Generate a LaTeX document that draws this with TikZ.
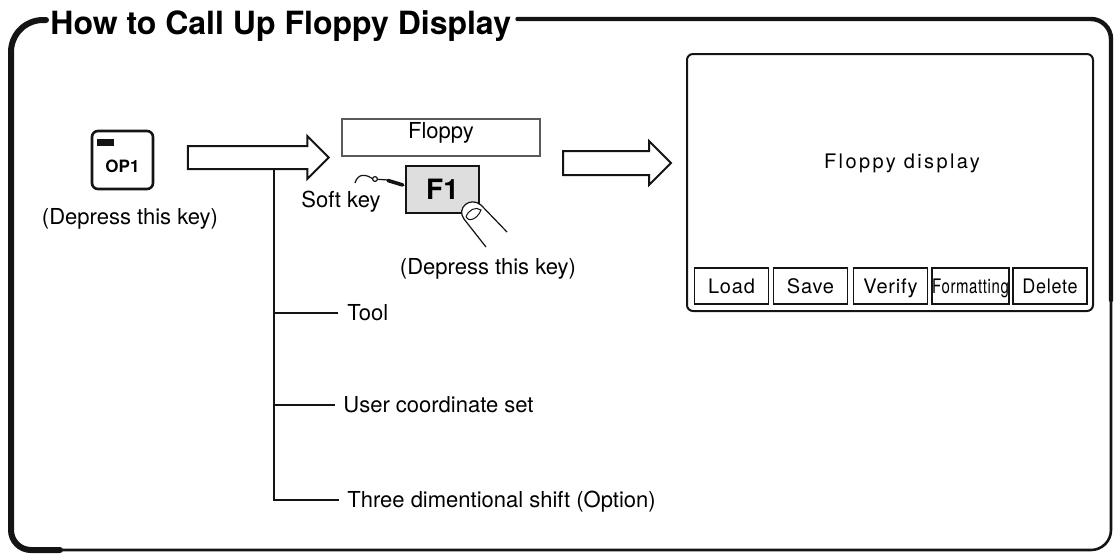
\documentclass[tikz,border=0pt]{standalone}
\usepackage{fontspec}
\setmainfont{TeX Gyre Heros}
\usetikzlibrary{positioning,shapes.arrows,calc}
\definecolor{ink}{RGB}{20,20,20}
\definecolor{keyface}{RGB}{222,222,222}
\tikzset{
  frame/.style={draw=ink,line width=3pt,line cap=round},
  thin/.style={draw=ink,line width=0.75pt},
  title/.style={font=\fontsize{16}{18}\selectfont\bfseries,inner sep=0pt},
  lbl/.style={font=\fontsize{11}{13}\selectfont,inner sep=0pt,
    text height=7.9pt,text depth=0pt},
  opkey/.style={draw=ink,line width=1.3pt,rounded corners=3pt,fill=white,
    minimum width=30.5pt,minimum height=29pt,inner sep=0pt},
  softbox/.style={draw=ink!70,line width=0.6pt,minimum width=99pt,
    minimum height=18.5pt,inner sep=0pt,font=\fontsize{11}{13}\selectfont,
    text height=7.9pt,text depth=6.5pt},
  softkey/.style={draw=ink,line width=1.2pt,fill=keyface,minimum width=36.5pt,
    minimum height=23.5pt,inner sep=0pt,font=\fontsize{14}{16}\selectfont\bfseries},
  fatarrow/.style={single arrow,draw=ink,line width=1pt,fill=white,
    inner xsep=0pt,inner ysep=5.25pt,
    single arrow head extend=5pt,single arrow tip angle=90,
    single arrow head indent=0pt},
  screen/.style={draw=ink,line width=1pt,rounded corners=3pt,
    minimum width=203pt,minimum height=128.5pt,inner sep=0pt},
  fbtn/.style={draw=ink,line width=0.7pt,minimum width=37pt,minimum height=18pt,
    inner sep=0pt,font=\fontsize{10}{12}\selectfont\addfontfeatures{LetterSpace=4},
    text height=7.2pt,text depth=0pt},
}

\begin{document}
\begin{tikzpicture}[x=0.5pt,y=-0.5pt]
  \useasboundingbox (0,0) rectangle (1116,554);

  % outer frame with the heading set into its top edge
  \node[title,anchor=base west] (title) at (50,34) {How to Call Up Floppy Display};
  \draw[frame,rounded corners=16pt] ($(title.west |- 0,20)+(-4,0)$) -- (11,20) -- (11,300);
  \draw[frame,rounded corners=10pt] (11,300) -- (11,550) -- (60,550);
  \draw[thin,line width=1.3pt,rounded corners=10pt] (60,550) -- (1111,550) -- (1111,300);
  \draw[frame,line width=2.2pt,rounded corners=10pt] (1111,300) -- (1111,19)
    -- ($(title.east |- 0,19)+(6,0)$);

  % OP1 key on the operation panel
  \node[opkey] (op1) at (122.5,160) {};
  \fill[ink] ($(op1.north west)+(6,9)$) rectangle ++(17,7);
  \node[font=\fontsize{8.5}{10}\selectfont\bfseries,inner sep=0pt] (op1txt)
    at ($(op1.center)+(0,6)$) {OP1};
  \node[lbl] (press1) at (130,217) {(Depress this key)};

  % first big arrow and the menu branch hanging from it
  \node[fatarrow,minimum height=70.5pt] (arrA) at (252.5,157.5) {};
  \coordinate (brtop) at (274,168);
  \node[lbl,anchor=west] (tool) at (347,313) {Tool};
  \node[lbl,anchor=west] (ucs) at (343,405) {User coordinate set};
  \node[lbl,anchor=west] (shift) at (347,500) {Three dimentional shift (Option)};
  \draw[thin] (brtop) |- ($(shift.west)+(-8,0)$);
  \draw[thin] (brtop |- tool) -- ($(tool.west)+(-9,0)$);
  \draw[thin] (brtop |- ucs) -- ($(ucs.west)+(-8,0)$);

  % soft key row
  \node[softbox] (fbox) at (441,137.5) {Floppy};
  \node[softkey] (f1) at (442.5,189.5) {F1};
  \node[lbl] (softlbl) at (341,200) {Soft key};
  \draw[thin,line width=0.6pt] (355,183) .. controls (358,173) and (366,174) .. (373,179)
    -- (388,180);
  \draw[thin,line width=0.6pt,fill=white] (375,179) circle[radius=1.2pt];
  \draw[ink,line width=1.8pt,line cap=round] (388,180.5) -- ($(f1.west)+(-2,-4.5)$);

  % finger pressing F1
  \draw[thin,line width=0.6pt,fill=white] (486,247) -- (464,219)
    .. controls (456,208) and (470,196) .. (481,205) -- (507,232);
  \draw[thin,line width=0.5pt] (466,217) .. controls (468,222) and (477,220) .. (481,210)
    .. controls (476,206) and (468,210) .. (466,217);
  \node[lbl] (press2) at (488,267) {(Depress this key)};

  % second big arrow to the resulting display
  \node[fatarrow,minimum height=54pt,inner ysep=5.5pt] (arrB) at (611,163) {};

  \node[screen] (scr) at (890,182.5) {};
  \node[font=\fontsize{10}{12}\selectfont\addfontfeatures{LetterSpace=12},
    inner sep=0pt] (scrtitle) at (902,163) {Floppy display};
  \foreach \lab/\x [count=\i] in {Load/731.5,Save/810.5,Verify/890.5,
      {\scalebox{0.75}[1]{Formatting}}/970.5,{\scalebox{0.9}[1]{Delete}}/1050}
    \node[fbtn] (btn\i) at (\x,286) {\lab};
\end{tikzpicture}
\end{document}
